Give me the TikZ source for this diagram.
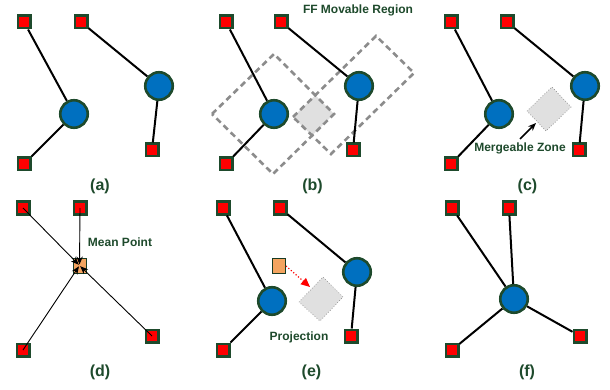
\documentclass[tikz,border=0pt]{standalone}
\usepackage{fontspec}
\setmainfont{Liberation Sans}
\usetikzlibrary{arrows.meta}

\definecolor{pinred}{HTML}{FF0000}
\definecolor{edgegreen}{HTML}{1E4A2C}
\definecolor{cellblue}{HTML}{0070C0}
\definecolor{meanorange}{HTML}{F4A460}
\definecolor{zonegray}{HTML}{E0E0E0}
\definecolor{dashgray}{HTML}{8C8C8C}
\definecolor{labelgreen}{HTML}{1E4A2C}

\tikzset{
  pin/.style={rectangle, draw=edgegreen, line width=2.2pt, fill=pinred,
              minimum size=12.8pt, inner sep=0pt},
  ffcell/.style={circle, draw=edgegreen, line width=2.6pt, fill=cellblue,
                 minimum size=27.5pt, inner sep=0pt},
  meanpt/.style={rectangle, draw=edgegreen!80!black, line width=1pt, fill=meanorange,
                 minimum width=13pt, minimum height=15pt, inner sep=0pt},
  wire/.style={line width=2pt, black},
  pull/.style={line width=0.9pt, black, -{Stealth[length=8pt,width=6.5pt]}},
  movable/.style={dashgray, line width=2.6pt, dash pattern=on 6pt off 4pt},
  zone/.style={fill=zonegray, draw=dashgray, line width=0.7pt, dotted},
  proj/.style={pinred, line width=1.2pt, dotted, -{Triangle[length=9pt,width=8pt]}},
  note/.style={text=labelgreen, font=\bfseries\fontsize{12}{12}\selectfont, inner sep=0pt, anchor=base},
  caption/.style={text=labelgreen, font=\bfseries\fontsize{16}{16}\selectfont, inner sep=0pt, anchor=base},
}

\begin{document}
\begin{tikzpicture}[x=1pt, y=-1pt]
\useasboundingbox (0,0) rectangle (610,390);

% ---------------- (a) two flip-flops with their pins ----------------
\node[ffcell] (a1) at (74,114) {};
\node[ffcell] (a2) at (159,86) {};
\node[pin] (ap1) at (24,22) {};
\node[pin] (ap2) at (24,164) {};
\node[pin] (ap3) at (81,22) {};
\node[pin] (ap4) at (152,150) {};
\draw[wire] (ap1) -- (a1);
\draw[wire] (ap2) -- (a1);
\draw[wire] (ap3) -- (a2);
\draw[wire] (ap4) -- (a2);
\node[caption] (capa) at (100,190.5) {(a)};

% ---------------- (b) movable regions and their overlap ----------------
\coordinate (d1l) at (212,114);
\coordinate (d1t) at (274,54);
\coordinate (d1r) at (334,114);
\coordinate (d1b) at (273,174);
\coordinate (d2l) at (293,117);
\coordinate (d2t) at (376,36);
\coordinate (d2r) at (414,73);
\coordinate (d2b) at (331,154);
\begin{scope}
  \clip (d1l) -- (d1t) -- (d1r) -- (d1b) -- cycle;
  \fill[zonegray] (d2l) -- (d2t) -- (d2r) -- (d2b) -- cycle;
\end{scope}
\draw[movable] (d1l) -- (d1t) -- (d1r) -- (d1b) -- cycle;
\draw[movable] (d2l) -- (d2t) -- (d2r) -- (d2b) -- cycle;
\node[ffcell] (b1) at (274,114) {};
\node[ffcell] (b2) at (359,86) {};
\node[pin] (bp1) at (226,22) {};
\node[pin] (bp2) at (226,164) {};
\node[pin] (bp3) at (281,22) {};
\node[pin] (bp4) at (353,150) {};
\draw[wire] (bp1) -- (b1);
\draw[wire] (bp2) -- (b1);
\draw[wire] (bp3) -- (b2);
\draw[wire] (bp4) -- (b2);
\node[note] (ffreg) at (358,13.5) {FF Movable Region};
\node[caption] (capb) at (312.5,190.5) {(b)};

% ---------------- (c) mergeable zone ----------------
\coordinate (czl) at (527,111);
\coordinate (czt) at (552,87);
\coordinate (czr) at (571,107);
\coordinate (czb) at (546,131);
\draw[zone] (czl) -- (czt) -- (czr) -- (czb) -- cycle;
\node[ffcell] (c1) at (499,114) {};
\node[ffcell] (c2) at (585,86) {};
\node[pin] (cp1) at (451,22) {};
\node[pin] (cp2) at (451,164) {};
\node[pin] (cp3) at (507,22) {};
\node[pin] (cp4) at (579,150) {};
\draw[wire] (cp1) -- (c1);
\draw[wire] (cp2) -- (c1);
\draw[wire] (cp3) -- (c2);
\draw[wire] (cp4) -- (c2);
\node[note] (mzone) at (520,152) {Mergeable Zone};
\coordinate (mztail) at (520,139);
\coordinate (mzhead) at (536,123);
\draw[pull, line width=1.6pt] (mztail) -- (mzhead);
\node[caption] (capc) at (527.5,190.5) {(c)};

% ---------------- (d) mean point of the pins ----------------
\node[meanpt] (dm) at (79.5,265.5) {};
\node[pin] (dp1) at (23,208) {};
\node[pin] (dp2) at (80,208) {};
\node[pin] (dp3) at (23,350) {};
\node[pin] (dp4) at (152,336) {};
\draw[pull, shorten >=1pt] (dp1.center) -- (dm.center);
\draw[pull, shorten >=1pt] (dp2.center) -- (dm.center);
\draw[pull, shorten >=1pt] (dp3.center) -- (dm.center);
\draw[pull, shorten >=1pt] (dp4.center) -- (dm.center);
\node[note] (meanlbl) at (120,246) {Mean Point};
\node[caption] (capd) at (100,376.5) {(d)};

% ---------------- (e) projection onto the zone ----------------
\coordinate (ezl) at (299,302);
\coordinate (ezt) at (323,277);
\coordinate (ezr) at (343,297);
\coordinate (ezb) at (320,321);
\draw[zone] (ezl) -- (ezt) -- (ezr) -- (ezb) -- cycle;
\node[ffcell] (e1) at (272,301) {};
\node[ffcell] (e2) at (357,272) {};
\node[pin] (ep1) at (223,208) {};
\node[pin] (ep2) at (223,350) {};
\node[pin] (ep3) at (280,208) {};
\node[pin] (ep4) at (351,336) {};
\draw[wire] (ep1) -- (e1);
\draw[wire] (ep2) -- (e1);
\draw[wire] (ep3) -- (e2);
\draw[wire] (ep4) -- (e2);
\node[meanpt] (em) at (279,266) {};
\coordinate (ehead) at (310,287);
\draw[proj] (em.east) -- (ehead);
\node[note] (projlbl) at (299,340) {Projection};
\node[caption] (cape) at (311.5,376.5) {(e)};

% ---------------- (f) merged flip-flop ----------------
\node[ffcell] (f1) at (514,299) {};
\node[pin] (fp1) at (452,208) {};
\node[pin] (fp2) at (509,208) {};
\node[pin] (fp3) at (452,350) {};
\node[pin] (fp4) at (580,336) {};
\draw[wire] (fp1) -- (f1);
\draw[wire] (fp2) -- (f1);
\draw[wire] (fp3) -- (f1);
\draw[wire] (fp4) -- (f1);
\node[caption] (capf) at (527,376.5) {(f)};
\end{tikzpicture}
\end{document}
